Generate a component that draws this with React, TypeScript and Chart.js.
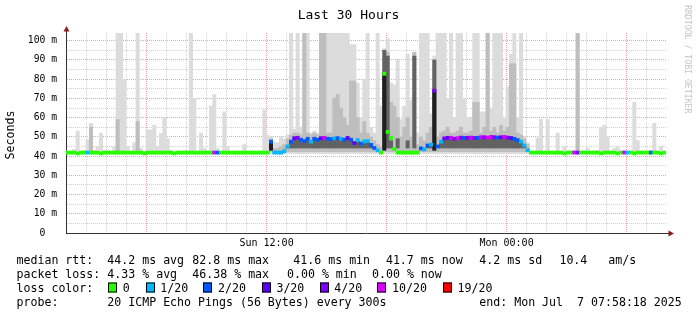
import React, { useEffect, useRef } from "react";
import { Chart, registerables } from "chart.js";
Chart.register(...registerables);

const _ = null;

// ---- time axis (hours since start, start = Sun 01:58:18, 10-minute steps) ----
const START_CLOCK_H = 1 + 58 / 60 + 18 / 3600;
const SPAN_H = 30;
const STEP_H = 1 / 6;
const X_LABELS = ["Sun 12:00", "Mon 00:00"];
const X_LABEL_HOUR_INDEX = [10, 22];

// ---- y axis ----
const Y_MAX = 104;
const Y_TICK_VALUES = [0, 5, 10, 15, 20, 25, 30, 35, 40, 45, 50, 55, 60, 65, 70, 75, 80, 85, 90, 95, 100];
const Y_TICK_LABELS = ["0  ", "10 m", "20 m", "30 m", "40 m", "50 m", "60 m", "70 m", "80 m", "90 m", "100 m"];

// ---- series (ms) ----
const MEDIAN = [
  41.8, 41.8, 41.8, 41.4, 41.8, 41.8, 41.8, 41.8, 41.8, 41.8,
  41.4, 41.8, 41.8, 41.8, 41.8, 41.8, 41.8, 41.8, 41.8, 41.8,
  41.8, 41.8, 41.8, 41.4, 41.8, 41.8, 41.8, 41.8, 41.8, 41.8,
  41.8, 41.8, 41.4, 41.8, 41.8, 41.8, 41.8, 41.8, 41.8, 41.8,
  41.8, 41.8, 41.8, 41.8, 41.8, 41.8, 41.8, 41.8, 41.8, 41.8,
  41.8, 41.8, 41.8, 41.8, 41.8, 41.8, 41.8, 41.8, 41.8, 41.8,
  41.8, 47.5, 41.8, 41.8, 41.8, 42.5, 45.0, 47.5, 49.3, 49.5,
  48.5, 47.8, 49.0, 47.5, 49.0, 48.5, 49.3, 49.5, 49.0, 48.8,
  49.2, 49.3, 49.0, 48.5, 49.4, 48.5, 46.8, 48.3, 46.5, 47.6,
  47.8, 45.8, 44.2, 43.0, 41.8, 82.8, 52.6, 49.5, 43.7, 41.8,
  41.8, 41.8, 41.8, 41.8, 41.8, 41.8, 44.0, 43.5, 45.5, 46.0,
  74.0, 45.0, 47.5, 49.2, 49.5, 49.5, 49.0, 49.3, 49.6, 49.4,
  49.5, 49.6, 49.4, 49.5, 49.8, 49.8, 49.6, 50.0, 49.8, 49.6,
  49.8, 50.0, 49.6, 49.4, 49.0, 48.3, 47.5, 45.5, 43.0, 41.8,
  41.8, 41.8, 41.8, 41.8, 41.8, 41.8, 41.8, 41.8, 41.8, 41.4,
  41.8, 41.8, 41.8, 41.8, 41.8, 41.8, 41.8, 41.8, 41.8, 41.8,
  41.4, 41.8, 41.8, 41.8, 41.8, 41.4, 41.8, 41.8, 41.8, 41.8,
  41.4, 41.8, 41.8, 41.8, 41.8, 41.8, 41.8, 41.8, 41.4, 41.8,
];

// loss bucket index into LOSS_LABELS / LOSS_COLORS
const LOSS = [
  0, 0, 0, 0, 0, 0, 1, 0, 0, 0,
  0, 0, 0, 0, 0, 0, 0, 0, 0, 0,
  0, 0, 0, 0, 0, 0, 0, 0, 0, 0,
  0, 0, 0, 0, 0, 0, 0, 0, 0, 0,
  0, 0, 0, 0, 5, 2, 0, 0, 0, 0,
  0, 0, 0, 0, 0, 0, 0, 0, 0, 0,
  0, 2, 1, 1, 1, 1, 1, 2, 3, 4,
  2, 2, 2, 1, 2, 2, 3, 5, 2, 2,
  1, 2, 1, 2, 3, 2, 3, 1, 2, 1,
  1, 2, 2, 1, 0, 0, 0, 0, 0, 0,
  0, 0, 0, 0, 0, 0, 2, 1, 2, 1,
  4, 2, 1, 4, 3, 5, 4, 5, 4, 2,
  4, 5, 4, 2, 5, 4, 5, 5, 4, 2,
  3, 5, 4, 3, 2, 2, 1, 1, 1, 0,
  0, 0, 0, 0, 0, 0, 0, 0, 0, 0,
  0, 0, 5, 4, 0, 0, 0, 0, 0, 0,
  0, 0, 0, 0, 0, 0, 0, 5, 1, 0,
  0, 0, 0, 0, 0, 2, 0, 0, 0, 0,
];

// outer smoke (slowest ping)
const SMOKE_MAX = [
  42.6, 42.6, 43.5, 53, 42.6, 43, 48.4, 57, 43, 45,
  52, 43, 42.6, 42.6, 45, 110, 110, 80, 45, 42.6,
  47, 110, 44, 42.6, 53.6, 53.6, 56, 45, 51.7, 60,
  49, 43, 42.6, 42.6, 42.6, 43, 42.8, 110, 70, 42.6,
  52, 44, 42.6, 66, 72, 44, 42.6, 63, 45, 42.6,
  42.6, 42.6, 42.6, 46, 42.6, 42.6, 42.6, 42.6, 42.6, 64,
  51, 50, 47, 47, 50, 49, 51, 110, 54, 110,
  55, 110, 110, 52, 53, 52, 110, 110, 110, 110,
  110, 110, 110, 110, 110, 98, 98, 78, 60, 80,
  110, 55, 52, 110, 66, 96, 101, 78, 77, 90,
  59, 66, 93, 69, 94, 52, 110, 110, 110, 62,
  92, 110, 110, 110, 70, 110, 60, 110, 110, 70,
  60, 60, 110, 110, 63, 63, 110, 65, 110, 110,
  110, 60, 76, 93, 110, 60, 110, 50, 47, 43,
  42.6, 49.5, 59, 42.6, 59, 42.6, 42.6, 52, 42.6, 45,
  42.6, 42.6, 43, 110, 42.6, 42.6, 44, 42.6, 42.6, 43,
  55, 56, 50, 42.6, 44, 45, 42.6, 43, 42.6, 42.6,
  68, 48, 42.6, 42.6, 42.6, 43, 57, 42.6, 45, 42.6,
];

// middle smoke layer
const SMOKE_HIGH = [
  _, _, _, _, _, _, _, 55, _, _,
  _, _, _, _, _, 59, _, _, _, _,
  _, 58, _, _, _, _, _, _, _, _,
  _, _, _, _, _, _, _, _, _, _,
  _, _, _, _, _, _, _, _, _, _,
  _, _, _, _, _, _, _, _, _, _,
  _, 49, 44, 44, 45, 46, 49, 51, 52, 52,
  51, 110, 52, 51, 52, 51, 110, 110, 52, 52,
  70, 72, 65, 60, 56, 79, 79, 60, 52, 58,
  52, 50, 48, 46, 45, 95, 94, 68, 66, 60,
  50, 55, 60, 50, 94, 46, 50, 48, 52, 55,
  90, 50, 52, 53, 55, 52, 52, 53, 55, 52,
  52, 53, 68, 68, 52, 55, 110, 53, 55, 52,
  56, 53, 55, 88, 88, 52, 51, 49, 46, _,
  _, _, _, _, _, _, _, _, _, _,
  _, _, _, 110, _, _, _, _, _, _,
  _, _, _, _, _, _, _, _, _, _,
  _, _, _, _, _, _, _, _, _, _,
];

// dense smoke core
const CORE_TOP = [
  _, _, _, _, _, _, _, _, _, _,
  _, _, _, _, _, _, _, _, _, _,
  _, _, _, _, _, _, _, _, _, _,
  _, _, _, _, _, _, _, _, _, _,
  _, _, _, _, _, _, _, _, _, _,
  _, _, _, _, _, _, _, _, _, _,
  _, _, _, _, _, _, 45, 47, 48.8, 49,
  48, 47.3, 48.5, 47, 48.5, 48, 48.8, 49, 48.5, 48.3,
  48.7, 48.8, 48.5, 48, 48.9, 48, 46.3, 47.8, 46, 47.1,
  47.3, 45.3, _, _, _, 95, 92, 48, _, 49,
  _, _, 48, _, 92, _, _, _, 45, 45.5,
  90, _, 47, 48.7, 49, 49, 48.5, 48.8, 49.1, 48.9,
  49, 49.1, 48.9, 49, 49.3, 49.3, 49.1, 49.5, 49.3, 49.1,
  49.3, 49.5, 49.1, 48.9, 48.5, 47.8, 47, 45, _, _,
  _, _, _, _, _, _, _, _, _, _,
  _, _, _, _, _, _, _, _, _, _,
  _, _, _, _, _, _, _, _, _, _,
  _, _, _, _, _, _, _, _, _, _,
];

// darkest streaks
const BLACK_TOP = [
  _, _, _, _, _, _, _, _, _, _,
  _, _, _, _, _, _, _, _, _, _,
  _, _, _, _, _, _, _, _, _, _,
  _, _, _, _, _, _, _, _, _, _,
  _, _, _, _, _, _, _, _, _, _,
  _, _, _, _, _, _, _, _, _, _,
  _, 47.5, _, _, _, _, _, _, _, _,
  _, _, _, _, _, _, _, _, _, _,
  _, _, _, _, _, _, _, _, _, _,
  _, _, _, _, _, 83, _, _, _, _,
  _, _, _, _, _, _, _, _, _, _,
  74, _, _, _, _, _, _, _, _, _,
  _, _, _, _, _, _, _, _, _, _,
  _, _, _, _, _, _, _, _, _, _,
  _, _, _, _, _, _, _, _, _, _,
  _, _, _, _, _, _, _, _, _, _,
  _, _, _, _, _, _, _, _, _, _,
  _, _, _, _, _, _, _, _, _, _,
];

const SMOKE_FLOOR = 41.3;
const HIGH_FLOOR = 42.3;
const CORE_FLOOR = 44.2;
const BLACK_FLOOR = 43;

// ---- texts ----
const TITLE = "Last 30 Hours";
const Y_TITLE = "Seconds";
const WATERMARK = "RRDTOOL / TOBI OETIKER";
const RTT_HEAD = "median rtt:";
const RTT_STATS = ["44.2 ms avg", "82.8 ms max", "41.6 ms min", "41.7 ms now", "4.2 ms sd", "10.4   am/s"];
const LOSS_HEAD = "packet loss:";
const LOSS_STATS = ["4.33 % avg", "46.38 % max", "0.00 % min", "0.00 % now"];
const COLOR_HEAD = "loss color:";
const LOSS_LABELS = ["0", "1/20", "2/20", "3/20", "4/20", "10/20", "19/20"];
const LOSS_COLORS = ["#26ff00", "#00b8ff", "#0059ff", "#5e00ff", "#7e00ff", "#dd00ff", "#ff0000"];
const PROBE_HEAD = "probe:";
const PROBE_TEXT = "20 ICMP Echo Pings (56 Bytes) every 300s";
const END_TEXT = "end: Mon Jul  7 07:58:18 2025";

// ---- styling ----
const MONO = "DejaVu Sans Mono";
const MAJOR_GRID = "#f0a0a0";
const MINOR_GRID = "#d2d2d2";
const AXIS_COLOR = "#333333";
const ARROW_COLOR = "#8a1a1a";
const RTT_X = [107.3, 192.3, 293.3, 385.9, 479.3, 559.4];
const LOSS_X = [107.3, 192.3, 287, 372];
const SWATCH_X = [108, 145.5, 203.4, 261.7, 319.5, 377.4, 442.8];
const ROW_Y = [263.5, 277.5, 291.5, 305.5];

function buildConfig(): any {
  const xOf = (i: number) => (i + 0.5) * STEP_H;
  const ranged = (tops: (number | null)[], floor: number) =>
    tops
      .map((t, i) => (t == null ? null : { x: xOf(i), y: [floor, t] }))
      .filter((p) => p !== null);

  const hour0 = Math.ceil(START_CLOCK_H) - START_CLOCK_H;
  const hourTicks: number[] = [];
  for (let v = hour0; v <= SPAN_H; v += 1) hourTicks.push(v);

  const isMajorHour = (v: number) => {
    const clock = Math.round(START_CLOCK_H + v);
    return clock % 6 === 0;
  };

  const overlay = {
    id: "overlay",
    afterDraw(chart: any) {
      const ctx = chart.ctx as CanvasRenderingContext2D;
      const { left, right, top, bottom } = chart.chartArea;
      ctx.save();
      ctx.fillStyle = "#000";

      // title
      ctx.font = `13px ${MONO}`;
      ctx.textAlign = "center";
      ctx.textBaseline = "alphabetic";
      ctx.fillText(TITLE, 348.5, 19);

      // y title
      ctx.save();
      ctx.translate(11, 135);
      ctx.rotate(-Math.PI / 2);
      ctx.font = `11.6px ${MONO}`;
      ctx.textAlign = "center";
      ctx.textBaseline = "middle";
      ctx.fillText(Y_TITLE, 0, 0);
      ctx.restore();

      // watermark
      ctx.save();
      ctx.translate(687.5, 5);
      ctx.rotate(Math.PI / 2);
      ctx.font = `8.2px ${MONO}`;
      ctx.fillStyle = "#c4c4c4";
      ctx.textAlign = "left";
      ctx.textBaseline = "middle";
      ctx.fillText(WATERMARK, 0, 0);
      ctx.restore();

      // axis extensions + arrows
      ctx.strokeStyle = AXIS_COLOR;
      ctx.lineWidth = 1;
      ctx.beginPath();
      ctx.moveTo(left + 0.5, top);
      ctx.lineTo(left + 0.5, top - 2);
      ctx.moveTo(right, bottom + 0.5);
      ctx.lineTo(right + 3, bottom + 0.5);
      ctx.stroke();
      ctx.fillStyle = ARROW_COLOR;
      ctx.beginPath();
      ctx.moveTo(left + 0.5, top - 7);
      ctx.lineTo(left - 2.5, top - 1.5);
      ctx.lineTo(left + 3.5, top - 1.5);
      ctx.closePath();
      ctx.fill();
      ctx.beginPath();
      ctx.moveTo(right + 8, bottom + 0.5);
      ctx.lineTo(right + 2.5, bottom - 2.5);
      ctx.lineTo(right + 2.5, bottom + 3.5);
      ctx.closePath();
      ctx.fill();

      // legend
      ctx.fillStyle = "#000";
      ctx.font = `11.6px ${MONO}`;
      ctx.textAlign = "left";
      ctx.textBaseline = "alphabetic";
      ctx.fillText(RTT_HEAD, 16.5, ROW_Y[0]);
      RTT_STATS.forEach((s, i) => ctx.fillText(s, RTT_X[i], ROW_Y[0]));
      ctx.fillText(LOSS_HEAD, 16.5, ROW_Y[1]);
      LOSS_STATS.forEach((s, i) => ctx.fillText(s, LOSS_X[i], ROW_Y[1]));
      ctx.fillText(COLOR_HEAD, 16.5, ROW_Y[2]);
      LOSS_LABELS.forEach((s, i) => {
        const bx = Math.round(SWATCH_X[i]);
        const by = ROW_Y[2] - 9;
        ctx.fillStyle = LOSS_COLORS[i];
        ctx.fillRect(bx, by, 9, 10);
        ctx.strokeStyle = "#000";
        ctx.strokeRect(bx + 0.5, by + 0.5, 8, 9);
        ctx.fillStyle = "#000";
        ctx.fillText(s, SWATCH_X[i] + 14.7, ROW_Y[2]);
      });
      ctx.fillText(PROBE_HEAD, 16.5, ROW_Y[3]);
      ctx.fillText(PROBE_TEXT, 107.3, ROW_Y[3]);
      ctx.fillText(END_TEXT, 479.3, ROW_Y[3]);
      ctx.restore();
    },
  };

  const barDefaults = {
    grouped: false,
    categoryPercentage: 1,
    barPercentage: 1,
    borderWidth: 0,
  };

  return {
    type: "bar",
    data: {
      datasets: [
        {
          ...barDefaults,
          label: "median",
          data: MEDIAN.map((m, i) => ({ x: xOf(i), y: [m - 0.8, m + 0.8] })),
          backgroundColor: LOSS.map((l) => LOSS_COLORS[l]),
        },
        { ...barDefaults, label: "black", data: ranged(BLACK_TOP, BLACK_FLOOR), backgroundColor: "#1e1e1e" },
        { ...barDefaults, label: "core", data: ranged(CORE_TOP, CORE_FLOOR), backgroundColor: "#626262" },
        { ...barDefaults, label: "high", data: ranged(SMOKE_HIGH, HIGH_FLOOR), backgroundColor: "#bebebe" },
        { ...barDefaults, label: "max", data: ranged(SMOKE_MAX, SMOKE_FLOOR), backgroundColor: "#dcdcdc" },
      ],
    },
    options: {
      responsive: false,
      maintainAspectRatio: false,
      animation: false,
      devicePixelRatio: 1,
      layout: { padding: { top: 33, right: 31, left: 0, bottom: 0 } },
      plugins: {
        legend: { display: false },
        tooltip: { enabled: false },
        title: { display: false },
      },
      scales: {
        x: {
          type: "linear",
          min: 0,
          max: SPAN_H,
          offset: false,
          z: 1,
          grid: {
            offset: false,
            drawTicks: false,
            lineWidth: 1,
            color: (c: any) => (c.tick && isMajorHour(c.tick.value) ? MAJOR_GRID : MINOR_GRID),
          },
          border: { display: true, color: AXIS_COLOR, width: 1, dash: [1, 1] },
          ticks: {
            autoSkip: false,
            maxRotation: 0,
            minRotation: 0,
            padding: 4,
            color: "#000",
            font: { family: MONO, size: 10 },
            callback: (_v: any, idx: number) => {
              const k = X_LABEL_HOUR_INDEX.indexOf(idx);
              return k >= 0 ? X_LABELS[k] : "";
            },
          },
          afterBuildTicks: (scale: any) => {
            scale.ticks = hourTicks.map((v) => ({ value: v }));
          },
          afterFit: (scale: any) => {
            scale.height = 82;
          },
        },
        y: {
          type: "linear",
          min: 0,
          max: Y_MAX,
          z: 1,
          grid: {
            drawTicks: false,
            lineWidth: 1,
            color: (c: any) => (c.tick && c.tick.value % 10 === 0 ? MAJOR_GRID : MINOR_GRID),
          },
          border: { display: true, color: AXIS_COLOR, width: 1, dash: [1, 1] },
          ticks: {
            autoSkip: false,
            padding: 9,
            color: "#000",
            font: { family: MONO, size: 9.7 },
            callback: (v: any) => (v % 10 === 0 ? Y_TICK_LABELS[v / 10] : ""),
          },
          afterBuildTicks: (scale: any) => {
            scale.ticks = Y_TICK_VALUES.map((v) => ({ value: v }));
          },
          afterFit: (scale: any) => {
            scale.width = 66;
          },
        },
      },
    },
    plugins: [overlay],
  };
}

export default function App() {
  const ref = useRef<HTMLCanvasElement | null>(null);
  useEffect(() => {
    if (!ref.current) return;
    const chart = new Chart(ref.current, buildConfig());
    return () => chart.destroy();
  }, []);
  return (
    <div style={{ position: "fixed", left: 0, top: 0, width: 697, height: 315, background: "#fff" }}>
      <canvas ref={ref} width={697} height={315} style={{ display: "block", width: 697, height: 315 }} />
    </div>
  );
}
